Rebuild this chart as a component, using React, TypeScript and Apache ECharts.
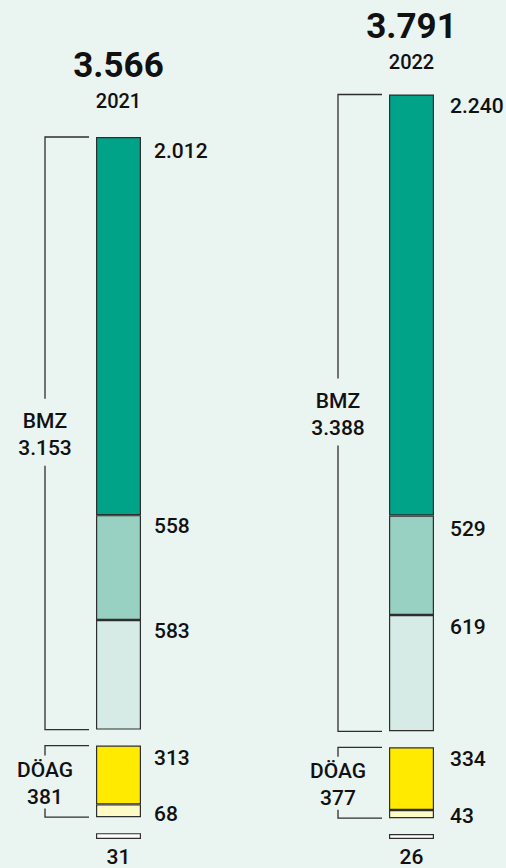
import React, { useEffect, useRef } from 'react';
import * as echarts from 'echarts';

// ---- data ----
const years = ['2021', '2022'];
const totals = [3566, 3791];
const bmzTotals = [3153, 3388];
const doagTotals = [381, 377];
const bmzDark = [2012, 2240];
const bmzMid = [558, 529];
const bmzLight = [583, 619];
const doagYellow = [313, 334];
const doagCream = [68, 43];
const other = [31, 26];
const groupNames = ['BMZ', 'DÖAG'];

// ---- layout / style ----
const FONT = "Roboto, 'DejaVu Sans Condensed', 'Liberation Sans Narrow', sans-serif";
const GAP = 85; // visual gap between groups, in value units
const BAR_W = 45;
const LABEL_X = [58, 61];
const TITLE_DIST = [24, 21];
const BG = '#eaf4f1';
const BORDER = '#2e2e2e';
const TEXT = '#111111';

function fmt(v: number): string {
  return String(v).replace(/\B(?=(\d{3})+(?!\d))/g, '.');
}

function mkBar(name: string, values: number[], color: string, offsets: number[]) {
  return {
    type: 'bar',
    name,
    stack: 's',
    barWidth: BAR_W,
    clip: false,
    data: values.map((v, i) => ({ value: v, label: { position: [LABEL_X[i], offsets[i]] } })),
    itemStyle: { color, borderColor: BORDER, borderWidth: 1.2 },
    label: {
      show: true,
      align: 'left',
      verticalAlign: 'middle',
      formatter: (p: any) => fmt(p.value),
      fontFamily: FONT,
      fontWeight: 500,
      fontSize: 21,
      color: TEXT,
    },
  };
}

function gapSeries() {
  return {
    type: 'bar',
    stack: 's',
    barWidth: BAR_W,
    clip: false,
    silent: true,
    data: years.map(() => GAP),
    itemStyle: { color: 'transparent' },
  };
}

export default function App() {
  const ref = useRef<HTMLDivElement>(null);

  useEffect(() => {
    if (!ref.current) return;
    const chart = echarts.init(ref.current, undefined, { renderer: 'svg' });

    const bracketSeries = {
      type: 'custom',
      clip: false,
      silent: true,
      data: years.map((_, i) => [i, bmzTotals[i]]),
      encode: { x: 0, y: 1 },
      renderItem: (params: any, api: any) => {
        const i = api.value(0);
        const cx = api.coord([i, 0])[0];
        const vx = cx - 73.5;
        const hx = cx - 29.5;
        const doagStart = other[i] + GAP;
        const doagEnd = doagStart + doagCream[i] + doagYellow[i];
        const bmzStart = doagEnd + GAP;
        const bmzEnd = bmzStart + bmzLight[i] + bmzMid[i] + bmzDark[i];
        const groups = [
          { name: groupNames[0], total: bmzTotals[i], y0: api.coord([i, bmzEnd])[1], y1: api.coord([i, bmzStart])[1], padT: 14, padB: 9, shift: 1.5 },
          { name: groupNames[1], total: doagTotals[i], y0: api.coord([i, doagEnd])[1], y1: api.coord([i, doagStart])[1], padT: 6, padB: 3, shift: 2 },
        ];
        const children: any[] = [];
        groups.forEach((g) => {
          const mid = (g.y0 + g.y1) / 2 + g.shift;
          const half = 22;
          const lineStyle = { stroke: BORDER, lineWidth: 1.3, fill: 'none' };
          children.push({
            type: 'polyline',
            shape: { points: [[hx, g.y0], [vx, g.y0], [vx, mid - half - g.padT]] },
            style: lineStyle,
          });
          children.push({
            type: 'polyline',
            shape: { points: [[vx, mid + half + g.padB], [vx, g.y1], [hx, g.y1]] },
            style: lineStyle,
          });
          children.push({
            type: 'text',
            style: {
              text: g.name + '\n' + fmt(g.total),
              x: vx,
              y: mid,
              align: 'center',
              verticalAlign: 'middle',
              textAlign: 'center',
              textVerticalAlign: 'middle',
              fontFamily: FONT,
              fontWeight: 500,
              fontSize: 21,
              lineHeight: 27,
              fill: TEXT,
            },
          });
        });
        return { type: 'group', children };
      },
    };

    const otherSeries = {
      type: 'bar',
      name: 'other',
      stack: 's',
      barWidth: BAR_W,
      clip: false,
      data: other,
      itemStyle: { color: '#ffffff', borderColor: BORDER, borderWidth: 1.2 },
      label: {
        show: true,
        position: 'bottom',
        distance: 7,
        formatter: (p: any) => fmt(p.value),
        fontFamily: FONT,
        fontWeight: 500,
        fontSize: 21,
        color: TEXT,
      },
    };

    const titleSeries = {
      type: 'bar',
      stack: 's',
      barWidth: BAR_W,
      clip: false,
      silent: true,
      data: years.map((_, i) => ({ value: 0, label: { distance: TITLE_DIST[i] } })),
      itemStyle: { color: 'transparent' },
      label: {
        show: true,
        position: 'top',
        formatter: (p: any) => `{t|${fmt(totals[p.dataIndex])}}\n{y|${years[p.dataIndex]}}`,
        rich: {
          t: { fontFamily: FONT, fontSize: 35, fontWeight: 'bold', lineHeight: 46, color: TEXT },
          y: { fontFamily: FONT, fontSize: 20, fontWeight: 500, lineHeight: 24, color: TEXT },
        },
      },
    };

    chart.setOption({
      animation: false,
      backgroundColor: BG,
      grid: { left: 118.5, right: 94.5, top: 12, bottom: 29 },
      xAxis: { type: 'category', data: years, boundaryGap: false, show: false },
      yAxis: { type: 'value', min: 0, max: 4400, show: false, splitLine: { show: false } },
      series: [
        otherSeries,
        gapSeries(),
        mkBar('DÖAG 2', doagCream, '#fffbc6', [10, 6]),
        mkBar('DÖAG 1', doagYellow, '#ffea00', [12, 12]),
        gapSeries(),
        mkBar('BMZ 3', bmzLight, '#d6ebe5', [11, 12]),
        mkBar('BMZ 2', bmzMid, '#98d0c1', [11, 13]),
        mkBar('BMZ 1', bmzDark, '#00a288', [14, 11]),
        titleSeries,
        bracketSeries,
      ],
    });

    return () => chart.dispose();
  }, []);

  return (
    <div
      ref={ref}
      style={{ position: 'fixed', left: 0, top: 0, width: 506, height: 868, background: BG }}
    />
  );
}
